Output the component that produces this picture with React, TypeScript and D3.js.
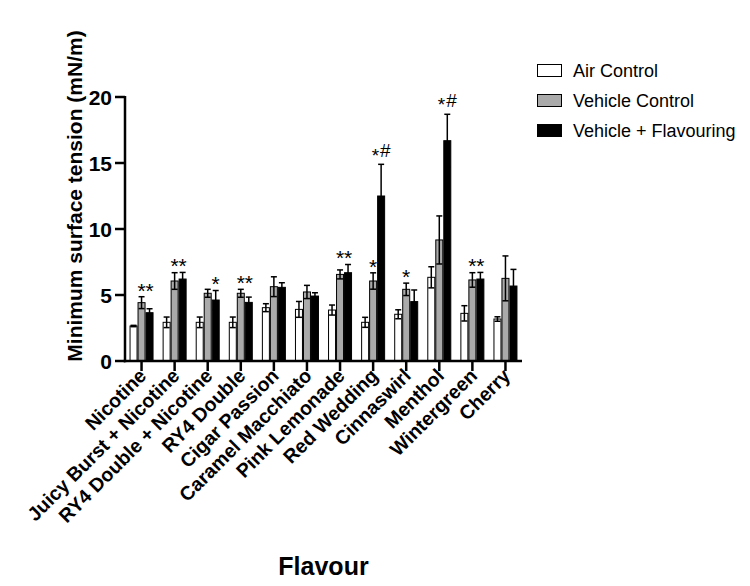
import React from "react";
import * as d3 from "d3";

const categories = [
  "Nicotine",
  "Juicy Burst + Nicotine",
  "RY4 Double + Nicotine",
  "RY4 Double",
  "Cigar Passion",
  "Caramel Macchiato",
  "Pink Lemonade",
  "Red Wedding",
  "Cinnaswirl",
  "Menthol",
  "Wintergreen",
  "Cherry",
];
const seriesNames = ["Air Control", "Vehicle Control", "Vehicle + Flavouring"];
const airControl = [2.65, 2.93, 2.93, 2.93, 4.04, 3.91, 3.86, 2.93, 3.54, 6.34, 3.61, 3.18];
const airControlErr = [0.05, 0.4, 0.4, 0.4, 0.3, 0.6, 0.38, 0.38, 0.34, 0.8, 0.58, 0.17];
const vehicleControl = [4.42, 6.06, 5.13, 5.13, 5.63, 5.23, 6.56, 6.06, 5.43, 9.17, 6.14, 6.26];
const vehicleControlErr = [0.45, 0.63, 0.3, 0.3, 0.75, 0.5, 0.34, 0.62, 0.47, 1.82, 0.55, 1.7];
const vehicleFlavour = [3.66, 6.21, 4.62, 4.44, 5.58, 4.92, 6.69, 12.5, 4.5, 16.69, 6.21, 5.68];
const vehicleFlavourErr = [0.3, 0.5, 0.72, 0.4, 0.35, 0.25, 0.62, 2.4, 0.88, 2.0, 0.5, 1.26];
const airSig = ["", "", "", "", "", "", "", "", "", "", "", ""];
const vehicleSig = ["*", "*", "", "*", "", "", "*", "*", "*", "", "*", ""];
const flavourSig = ["*", "*", "*", "*", "", "", "*", "*#", "", "*#", "*", ""];
const yTicks = [0, 5, 10, 15, 20];

const FONT = "'Liberation Sans', Arial, Helvetica, sans-serif";
const fills = ["#ffffff", "#aaaaaa", "#000000"];

export default function App() {
  const W = 750, H = 586;
  const x0 = 125, x1 = 522, yTop = 97, yBot = 361;
  const x = d3.scaleBand<string>().domain(categories).range([x0, x1]).paddingInner(0).paddingOuter(0);
  const y = d3.scaleLinear().domain([0, 20]).range([yBot, yTop]);
  const inner = d3.scaleBand<number>().domain([0, 1, 2]).range([0, 24]);

  const means = [airControl, vehicleControl, vehicleFlavour];
  const errs = [airControlErr, vehicleControlErr, vehicleFlavourErr];
  const sigs = [airSig, vehicleSig, flavourSig];

  const barX = (ci: number, si: number) =>
    (x(categories[ci]) as number) + x.bandwidth() / 2 - 12 + (inner(si) as number);

  const annFs = 21;
  const annotations: { x: number; cy: number; t: string; key: string }[] = [];
  categories.forEach((c, ci) => {
    const starBars = [0, 1, 2].filter((si) => sigs[si][ci] === "*");
    const starTop = starBars.length
      ? Math.min(...starBars.map((si) => y(means[si][ci] + errs[si][ci])))
      : 0;
    [0, 1, 2].forEach((si) => {
      const s = sigs[si][ci];
      if (!s) return;
      const cy = s === "*" ? starTop - 11 : y(means[si][ci] + errs[si][ci]) - 15;
      annotations.push({
        x: barX(ci, si) + inner.bandwidth() / 2,
        cy,
        t: s,
        key: c + si,
      });
    });
  });

  return (
    <svg
      width={W}
      height={H}
      style={{ position: "absolute", left: 0, top: 0, background: "#fff" }}
      fontFamily={FONT}
    >
      {/* bars */}
      {categories.map((c, ci) =>
        [0, 1, 2].map((si) => {
          const bx = barX(ci, si);
          const bw = inner.bandwidth();
          const m = means[si][ci];
          const e = errs[si][ci];
          const cx = bx + bw / 2;
          return (
            <g key={c + si}>
              <rect
                x={bx + 0.5}
                y={y(m)}
                width={bw - 1}
                height={yBot - y(m)}
                fill={fills[si]}
                stroke="#000"
                strokeWidth={1}
              />
              <g stroke="#000" strokeWidth={1.5} fill="none">
                <line x1={cx} x2={cx} y1={y(m - e)} y2={y(m + e)} />
                <line x1={cx - 3} x2={cx + 3} y1={y(m + e)} y2={y(m + e)} />
                <line x1={cx - 3} x2={cx + 3} y1={y(m - e)} y2={y(m - e)} />
              </g>
            </g>
          );
        })
      )}

      {/* annotations */}
      {annotations.map((a) =>
        a.t === "*" ? (
          <text key={a.key} x={a.x} y={a.cy + annFs * 0.57} textAnchor="middle" fontSize={annFs} fill="#000">
            *
          </text>
        ) : (
          <text key={a.key} x={a.x} y={a.cy + annFs * 0.36} textAnchor="middle" fontSize={annFs - 2} fill="#000">
            <tspan dy={annFs * 0.22}>*</tspan>
            <tspan dx={1} dy={-annFs * 0.22}>#</tspan>
          </text>
        )
      )}

      {/* y axis */}
      <line x1={x0} x2={x0} y1={yTop - 1} y2={yBot + 1.25} stroke="#000" strokeWidth={2.5} />
      {yTicks.map((t) => (
        <g key={t}>
          <line x1={x0 - 10} x2={x0} y1={y(t)} y2={y(t)} stroke="#000" strokeWidth={2.5} />
          <text
            x={x0 - 13}
            y={y(t)}
            dy="0.36em"
            textAnchor="end"
            fontSize={21}
            fontWeight="bold"
            fill="#000"
          >
            {t}
          </text>
        </g>
      ))}
      <text
        transform={`translate(82,196) rotate(-90)`}
        textAnchor="middle"
        fontSize={21}
        fontWeight="bold"
        fill="#000"
      >
        Minimum surface tension (mN/m)
      </text>

      {/* x axis */}
      <line x1={x0 - 1.25} x2={x1} y1={yBot} y2={yBot} stroke="#000" strokeWidth={2.5} />
      {categories.map((c) => {
        const cx = (x(c) as number) + x.bandwidth() / 2;
        return (
          <g key={c}>
            <line x1={cx} x2={cx} y1={yBot} y2={yBot + 10} stroke="#000" strokeWidth={2.5} />
            <text
              transform={`translate(${cx + 6},${yBot + 16}) rotate(-45)`}
              textAnchor="end"
              fontSize={19.5}
              fontWeight="bold"
              fill="#000"
            >
              {c}
            </text>
          </g>
        );
      })}
      <text
        x={(x0 + x1) / 2}
        y={575}
        textAnchor="middle"
        fontSize={25}
        fontWeight="bold"
        fill="#000"
      >
        Flavour
      </text>

      {/* legend */}
      {seriesNames.map((n, i) => (
        <g key={n} transform={`translate(537,${64.5 + i * 30})`}>
          <rect x={0.5} y={0} width={24} height={12} fill={fills[i]} stroke="#000" strokeWidth={1} />
          <text x={36} y={12.5} fontSize={18} fill="#000">
            {n}
          </text>
        </g>
      ))}
    </svg>
  );
}
